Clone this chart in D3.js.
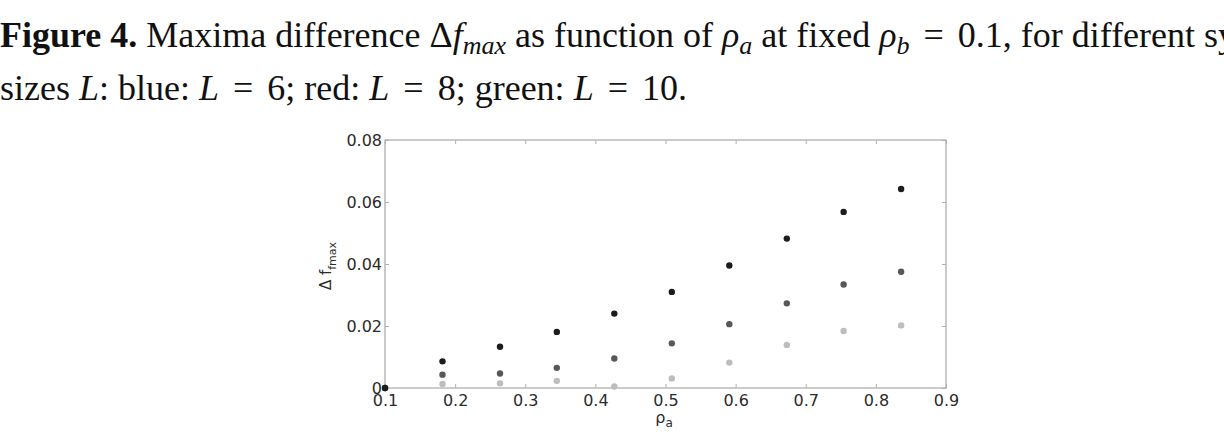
<!DOCTYPE html>
<html>
<head>
<meta charset="utf-8">
<script src="https://cdn.jsdelivr.net/npm/d3@7"></script>
<style>
  html, body { margin: 0; padding: 0; background: #fff; }
  svg { display: block; }
  .caption { font-family: "Liberation Serif", "Times New Roman", serif; font-size: 36px; fill: #111; white-space: pre; }
  .tick text { font-family: "DejaVu Sans", sans-serif; font-size: 16px; fill: #2b2b2b; }
  .tick line { stroke: #b0b0b0; }
  .lbl { font-family: "DejaVu Sans", sans-serif; fill: #2b2b2b; }
</style>
</head>
<body>
<script>
// Maxima difference vs rho_a (rho_b = 0.1), three system sizes
const rhoA  = [0.1, 0.182, 0.264, 0.345, 0.427, 0.509, 0.591, 0.673, 0.754, 0.836];
const dfL6  = [0, 0.0086, 0.0133, 0.0181, 0.0240, 0.0310, 0.0395, 0.0482, 0.0568, 0.0642];
const dfL8  = [0, 0.0043, 0.0047, 0.0065, 0.0095, 0.0144, 0.0206, 0.0273, 0.0334, 0.0375];
const dfL10 = [0, 0.0013, 0.0015, 0.0023, 0.0005, 0.0031, 0.0082, 0.0139, 0.0184, 0.0202];
const xTicks = [0.1, 0.2, 0.3, 0.4, 0.5, 0.6, 0.7, 0.8, 0.9];
const yTicks = [0, 0.02, 0.04, 0.06, 0.08];

// drawn light first so darker points end on top
const series = [
  { name: "L=10", values: dfL10, color: "#bdbdbd" },
  { name: "L=8",  values: dfL8,  color: "#585858" },
  { name: "L=6",  values: dfL6,  color: "#1c1c1c" }
];

const width = 1224, height = 447;
const svg = d3.select("body").append("svg")
    .attr("width", width)
    .attr("height", height);

// caption, pieces are [text, kind] ; kind: b bold, i italic, s italic subscript, eq math "="
function caption(y, parts) {
    const t = svg.append("text").attr("class", "caption").attr("x", 0).attr("y", y);
    let sub = false;
    parts.forEach(([txt, kind]) => {
        const ts = t.append("tspan");
        if (kind === "s") {
            ts.attr("font-style", "italic").attr("font-size", "26px").attr("dy", sub ? 0 : 7);
            sub = true;
        } else if (sub) {
            ts.attr("dy", -7);
            sub = false;
        }
        if (kind === "b") ts.attr("font-weight", "bold");
        if (kind === "i") ts.attr("font-style", "italic");
        if (kind === "eq") {
            ts.attr("dx", 14).text("=");
            t.append("tspan").attr("dx", 14).text(txt);
            return;
        }
        ts.text(txt);
    });
}

caption(47, [
    ["Figure 4.", "b"], [" Maxima difference \u0394"], ["f", "i"], ["max", "s"],
    [" as function of "], ["\u03C1", "i"], ["a", "s"], [" at fixed "],
    ["\u03C1", "i"], ["b", "s"], ["0.1", "eq"], [", for different system"]
]);
caption(100, [
    ["sizes "], ["L", "i"], [": blue: "], ["L", "i"], ["6", "eq"], ["; red: "],
    ["L", "i"], ["8", "eq"], ["; green: "], ["L", "i"], ["10.", "eq"]
]);

// plot area
const x = d3.scaleLinear().domain([0.1, 0.9]).range([385, 946]);
const y = d3.scaleLinear().domain([0, 0.08]).range([388, 140]);

svg.append("rect")
    .attr("x", x(0.1)).attr("y", y(0.08))
    .attr("width", x(0.9) - x(0.1)).attr("height", y(0) - y(0.08))
    .attr("fill", "none").attr("stroke", "#a8a8a8").attr("stroke-width", 1.2);

const fmtY = d => d === 0 ? "0" : d3.format(".2f")(d);

const gx = svg.append("g").attr("transform", `translate(0,${y(0)})`)
    .call(d3.axisBottom(x).tickValues(xTicks).tickFormat(d3.format(".1f"))
        .tickSizeInner(-4).tickSizeOuter(0).tickPadding(7));
const gxt = svg.append("g").attr("transform", `translate(0,${y(0.08)})`)
    .call(d3.axisTop(x).tickValues(xTicks).tickFormat("")
        .tickSizeInner(-4).tickSizeOuter(0));
const gy = svg.append("g").attr("transform", `translate(${x(0.1)},0)`)
    .call(d3.axisLeft(y).tickValues(yTicks).tickFormat(fmtY)
        .tickSizeInner(-4).tickSizeOuter(0).tickPadding(3));
const gyr = svg.append("g").attr("transform", `translate(${x(0.9)},0)`)
    .call(d3.axisRight(y).tickValues(yTicks).tickFormat("")
        .tickSizeInner(-4).tickSizeOuter(0));
[gx, gxt, gy, gyr].forEach(g => {
    g.select(".domain").remove();
    g.attr("font-family", null).attr("font-size", null);
});

// axis labels
const xl = svg.append("text").attr("class", "lbl")
    .attr("x", 664).attr("y", 423)
    .attr("text-anchor", "middle").attr("font-size", "16px");
xl.append("tspan").text("\u03C1");
xl.append("tspan").attr("font-size", "12px").attr("dy", 4).text("a");

const yl = svg.append("text").attr("class", "lbl")
    .attr("transform", "translate(331,266) rotate(-90)")
    .attr("text-anchor", "middle").attr("font-size", "15px");
yl.append("tspan").text("\u0394 f");
yl.append("tspan").attr("font-size", "11px").attr("dy", 5).text("fmax");

// points
series.forEach(s => {
    svg.append("g").selectAll("circle")
        .data(rhoA.map((r, i) => [r, s.values[i]]))
        .enter().append("circle")
        .attr("cx", d => x(d[0]))
        .attr("cy", d => y(d[1]))
        .attr("r", 3.2)
        .attr("fill", s.color);
});
</script>
</body>
</html>
